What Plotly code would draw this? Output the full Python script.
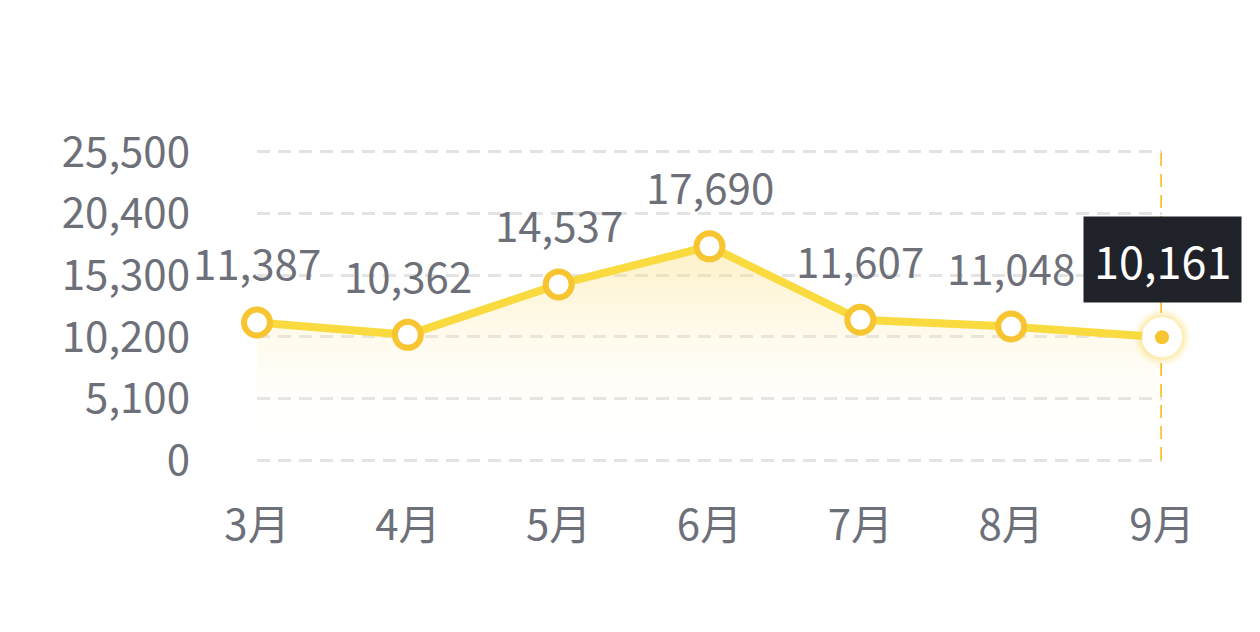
import plotly.graph_objects as go

months = ["3月", "4月", "5月", "6月", "7月", "8月", "9月"]
values = [11387, 10362, 14537, 17690, 11607, 11048, 10161]
y_ticks = [0, 5100, 10200, 15300, 20400, 25500]
y_tick_text = ["0", "5,100", "10,200", "15,300", "20,400", "25,500"]

FONT = "Noto Sans CJK SC"
GRAY = "#6e7079"
LINE = "#fadb3f"
MARK = "#f7c531"
FS = 42

fig = go.Figure()

# area + line
fig.add_trace(go.Scatter(
    x=months, y=values, mode="lines",
    line=dict(color=LINE, width=8),
    fill="tozeroy",
    fillgradient=dict(type="vertical",
                      colorscale=[[0, "rgba(255,255,255,0)"], [1, "rgba(252,222,120,0.42)"]]),
    hoverinfo="skip", cliponaxis=False,
))

# vertical dashed pointer line
fig.add_trace(go.Scatter(
    x=[months[-1], months[-1]], y=[y_ticks[0], y_ticks[-1]], mode="lines",
    line=dict(color="#f5c22c", width=3.5, dash="13px,8px"),
    hoverinfo="skip", cliponaxis=False,
))

# hollow markers (all but last)
fig.add_trace(go.Scatter(
    x=months[:-1], y=values[:-1], mode="markers",
    marker=dict(size=26, color="white", line=dict(color=MARK, width=6)),
    hoverinfo="skip", cliponaxis=False,
))

# highlighted last point: glow + white disc + dot
for size, color in [(58, "rgba(250,215,80,0.08)"), (52, "rgba(250,215,80,0.14)"),
                    (46, "rgba(250,215,80,0.22)"), (40, "white"), (14, MARK)]:
    fig.add_trace(go.Scatter(
        x=[months[-1]], y=[values[-1]], mode="markers",
        marker=dict(size=size, color=color, line=dict(width=0)),
        hoverinfo="skip", cliponaxis=False,
    ))

# data labels
for m, v in zip(months[:-1], values[:-1]):
    fig.add_annotation(x=m, y=v, xref="x", yref="y", text=f"{v:,}",
                       showarrow=False, yanchor="bottom", yshift=28,
                       font=dict(family=FONT, size=FS, color=GRAY))

# tooltip
fig.add_annotation(x=months[-1], y=values[-1], xref="x", yref="y",
                   text=f"{values[-1]:,}", showarrow=False, yshift=78,
                   font=dict(family=FONT, size=45, color="white"),
                   bgcolor="#1f2229", borderpad=10, xanchor="center")

fig.update_layout(
    width=1252, height=624,
    margin=dict(l=249, r=98, t=142, b=170),
    plot_bgcolor="white", paper_bgcolor="white",
    showlegend=False,
    font=dict(family=FONT, color=GRAY),
    xaxis=dict(range=[0, 6], type="category", categoryorder="array", categoryarray=months,
               showgrid=False, zeroline=False, showline=False,
               ticks="", tickfont=dict(family=FONT, size=FS, color=GRAY),
               ticklabelstandoff=35),
    yaxis=dict(range=[-165, 25665], tickvals=y_ticks, ticktext=y_tick_text,
               showgrid=True, gridcolor="#e3e3e3", gridwidth=2.5, griddash="13px,8px",
               zeroline=False, showline=False, ticks="",
               tickfont=dict(family=FONT, size=FS, color=GRAY),
               ticklabelstandoff=66),
)

fig.write_html("out.html")
